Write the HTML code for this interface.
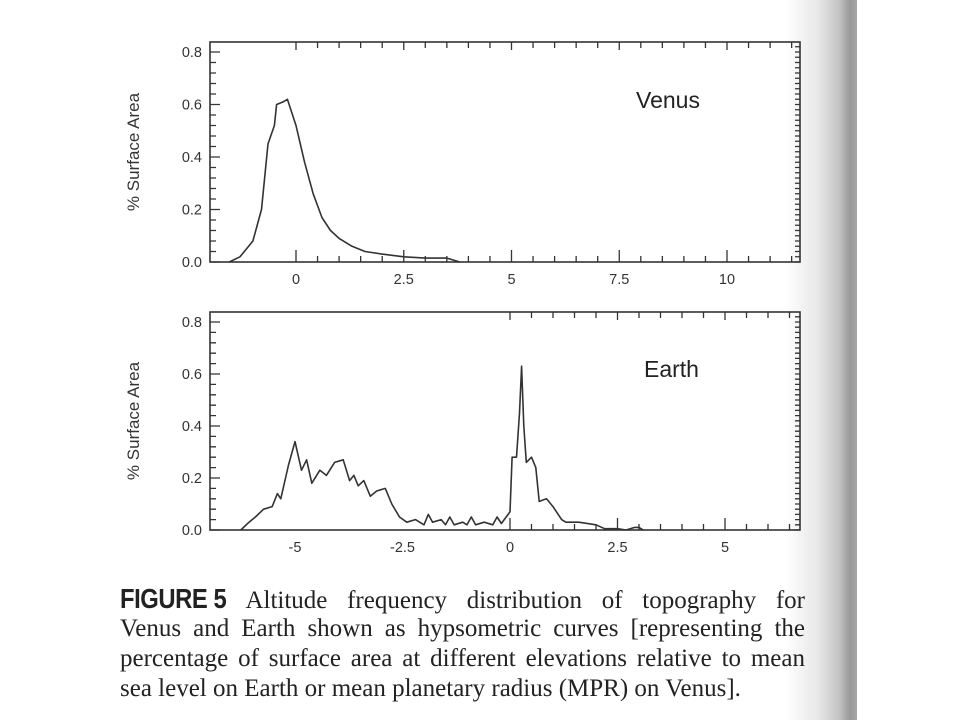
<!DOCTYPE html>
<html><head><meta charset="utf-8">
<style>
html,body{margin:0;padding:0;background:#fff;}
#page{position:relative;width:960px;height:720px;overflow:hidden;background:#fff;font-family:"Liberation Sans",sans-serif;}
#shade{position:absolute;left:785px;top:0;width:72px;height:720px;background:linear-gradient(to right,rgba(240,240,240,0) 0%,#e8e8e8 45%,#c4c4c4 75%,#999 90%,#a4a4a4 100%);}
.cap{position:absolute;left:120px;width:685px;font-family:"Liberation Serif",serif;font-size:25px;color:#222;text-align:justify;text-align-last:justify;white-space:nowrap;line-height:30px;}
.cap.last{text-align-last:left;width:auto;}
</style></head>
<body>
<div id="page">
<div id="shade"></div>
<svg id="chart" width="960" height="720" style="position:absolute;left:0;top:0"></svg>
<div class="cap" style="top:584px"><span style="font-family:'Liberation Sans',sans-serif;font-weight:bold;font-size:28px;letter-spacing:-0.5px;display:inline-block;transform:scaleX(0.85);transform-origin:left;margin-right:-18px">FIGURE 5</span> Altitude frequency distribution of topography for</div>
<div class="cap" style="top:614px">Venus and Earth shown as hypsometric curves [representing the</div>
<div class="cap" style="top:644px">percentage of surface area at different elevations relative to mean</div>
<div class="cap last" style="top:674px">sea level on Earth or mean planetary radius (MPR) on Venus].</div>
</div>
<script>
const venusX=[-1.55,-1.3,-1.0,-0.8,-0.65,-0.5,-0.45,-0.3,-0.2,-0.1,0,0.2,0.4,0.6,0.8,1.0,1.3,1.6,2.0,2.5,3.0,3.5,3.8];
const venusY=[0,0.02,0.08,0.2,0.45,0.52,0.6,0.61,0.62,0.57,0.52,0.38,0.26,0.17,0.12,0.09,0.06,0.04,0.03,0.02,0.015,0.015,0];
const earthX=[-6.26,-6.07,-5.92,-5.73,-5.53,-5.41,-5.33,-5.15,-5.0,-4.85,-4.73,-4.61,-4.42,-4.27,-4.08,-3.88,-3.73,-3.63,-3.53,-3.4,-3.25,-3.1,-2.9,-2.75,-2.57,-2.4,-2.2,-2.0,-1.9,-1.8,-1.6,-1.5,-1.4,-1.3,-1.1,-1.0,-0.9,-0.8,-0.6,-0.4,-0.3,-0.2,0.0,0.05,0.15,0.22,0.27,0.32,0.38,0.5,0.6,0.68,0.85,1.0,1.2,1.3,1.6,2.0,2.2,2.5,2.7,2.9,3.0,3.1];
const earthY=[0,0.03,0.05,0.08,0.09,0.14,0.12,0.25,0.34,0.23,0.27,0.18,0.23,0.21,0.26,0.27,0.19,0.21,0.17,0.19,0.13,0.15,0.16,0.1,0.05,0.03,0.04,0.02,0.06,0.03,0.04,0.02,0.05,0.02,0.03,0.02,0.05,0.02,0.03,0.02,0.05,0.025,0.07,0.28,0.28,0.45,0.63,0.4,0.26,0.28,0.24,0.11,0.12,0.09,0.04,0.03,0.03,0.02,0.005,0.005,0,0.01,0.01,0];
const yTicks=["0.0","0.2","0.4","0.6","0.8"];
const venusXTicks=["0","2.5","5","7.5","10"];
const earthXTicks=["-5","-2.5","0","2.5","5"];
const NS="http://www.w3.org/2000/svg";
const svg=document.getElementById('chart');
function mk(t,a,p){const e=document.createElementNS(NS,t);for(const k in a)e.setAttribute(k,a[k]);(p||svg).appendChild(e);return e;}
function panel(cfg){
  const g=mk('g',{});
  
  
  const sx=v=>cfg.x0+(v-cfg.xmin)*cfg.pxu, sy=v=>cfg.y0-v*cfg.pyu;
  const L=210,R=800,T=cfg.top,B=cfg.y0;
  const fr=mk('rect',{x:L,y:T,width:R-L,height:B-T,fill:'none',stroke:'#333','stroke-width':1.6},g);
  
  
  let d='';
  for(let v=Math.ceil(cfg.xmin*2)/2;sx(v)<=R;v+=0.5){const x=sx(v);if(x<L+1)continue;const maj=Math.abs(v/2.5-Math.round(v/2.5))<1e-6;const h=maj?12:6;d+=`M${x},${B}v${-h}M${x},${T}v${maj?8:6}`;}
  for(let v=0;sy(v)>=T;v+=0.04){const y=sy(v);const maj=Math.abs(v/0.2-Math.round(v/0.2))<1e-6;d+=`M${L},${y}h${maj?10:6}`;}
  for(let v=0;sy(v)>=T;v+=0.02){const y=sy(v);d+=`M${R},${y}h-5`;}
  const tk=mk('path',{d:d,stroke:'#333','stroke-width':1.3,fill:'none'},g);
  
  
  yTicks.forEach(s=>{const t=mk('text',{x:L-8,y:sy(parseFloat(s))+5,'text-anchor':'end','font-size':14.5,fill:'#333'},g);t.textContent=s;
    
    });
  cfg.xt.forEach(s=>{const t=mk('text',{x:sx(parseFloat(s)),y:B+22,'text-anchor':'middle','font-size':14.5,fill:'#333'},g);t.textContent=s;
    
    });
  const yt=mk('text',{x:0,y:0,transform:`translate(139,${(T+B)/2}) rotate(-90)`,'text-anchor':'middle','font-size':17,fill:'#333'},g);
  yt.textContent='% Surface Area';
  
  
  const lb=mk('text',{x:cfg.lx,y:cfg.ly,'font-size':23,fill:'#222'},g);lb.textContent=cfg.label;
  
  
  let p='';cfg.xs.forEach((v,i)=>{p+=(i?'L':'M')+sx(v).toFixed(1)+','+sy(cfg.ys[i]).toFixed(1);});
  const ln=mk('path',{d:p,stroke:'#333','stroke-width':1.6,fill:'none','stroke-linejoin':'round'},g);
  
  
}
panel({name:'venus-chart',x0:296,xmin:0,pxu:43.1,y0:262,pyu:262.5,top:42,xt:venusXTicks,xs:venusX,ys:venusY,label:'Venus',lx:636,ly:108});
panel({name:'earth-chart',x0:510,xmin:0,pxu:43.0,y0:530,pyu:260,top:312,xt:earthXTicks,xs:earthX,ys:earthY,label:'Earth',lx:644,ly:377});
</script>
</body></html>
